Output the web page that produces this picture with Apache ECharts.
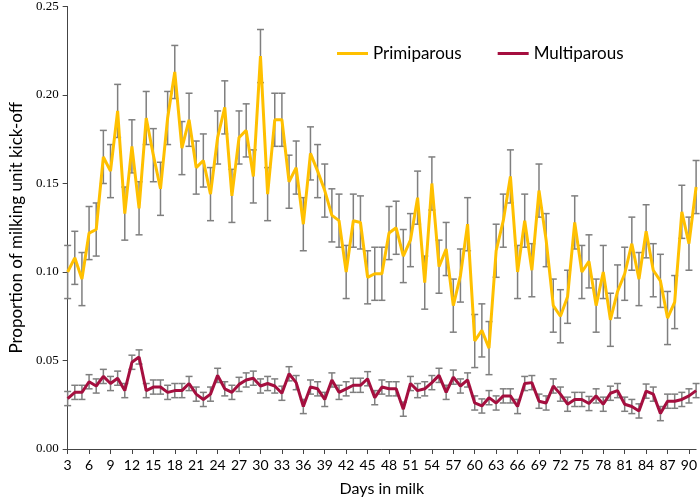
<!DOCTYPE html>
<html>
<head>
<meta charset="utf-8">
<script src="https://cdn.jsdelivr.net/npm/echarts@6/dist/echarts.min.js"></script>
<style>html,body{margin:0;padding:0;background:#fff}#c{width:700px;height:502px}</style>
</head>
<body>
<div id="c"></div>
<script>
var days = [];
for (var d = 3; d <= 91; d++) days.push(String(d));

var primiparous = [0.100,0.108,0.096,0.122,0.124,0.165,0.157,0.191,0.133,0.171,
0.136,0.187,0.166,0.147,0.187,0.213,0.170,0.186,0.159,0.163,
0.144,0.176,0.193,0.143,0.176,0.180,0.154,0.222,0.144,0.186,
0.186,0.151,0.159,0.127,0.167,0.157,0.146,0.132,0.129,0.100,
0.129,0.128,0.097,0.099,0.099,0.122,0.125,0.109,0.118,0.142,
0.094,0.150,0.103,0.113,0.081,0.098,0.127,0.061,0.067,0.057,
0.112,0.129,0.154,0.100,0.129,0.101,0.146,0.118,0.081,0.075,
0.086,0.128,0.100,0.106,0.081,0.100,0.073,0.089,0.099,0.116,
0.096,0.123,0.101,0.095,0.074,0.083,0.134,0.116,0.148];

var primiparousErr = [0.015,0.015,0.015,0.015,0.015,0.015,0.015,0.015,0.015,0.015,
0.015,0.015,0.015,0.015,0.015,0.015,0.015,0.015,0.015,0.015,
0.015,0.015,0.015,0.015,0.015,0.015,0.015,0.015,0.015,0.015,
0.015,0.015,0.015,0.015,0.015,0.015,0.015,0.015,0.015,0.015,
0.015,0.015,0.015,0.015,0.015,0.015,0.015,0.015,0.015,0.015,
0.015,0.015,0.015,0.015,0.015,0.015,0.015,0.015,0.015,0.015,
0.015,0.015,0.015,0.015,0.015,0.015,0.015,0.015,0.015,0.015,
0.015,0.015,0.015,0.015,0.015,0.015,0.015,0.015,0.015,0.015,
0.015,0.015,0.015,0.015,0.015,0.015,0.015,0.015,0.015];

var multiparous = [0.0285,0.032,0.032,0.038,0.0356,0.041,0.037,0.040,0.033,0.049,
0.052,0.033,0.035,0.035,0.032,0.033,0.033,0.037,0.031,0.028,
0.031,0.0416,0.034,0.032,0.0365,0.039,0.040,0.0356,0.037,0.0356,
0.0315,0.0425,0.0375,0.024,0.035,0.034,0.028,0.039,0.032,0.034,
0.036,0.036,0.0397,0.029,0.035,0.034,0.034,0.0225,0.037,0.033,
0.034,0.0375,0.0416,0.032,0.0406,0.0356,0.039,0.026,0.0243,0.029,
0.026,0.030,0.030,0.024,0.037,0.0375,0.027,0.026,0.0356,0.031,
0.0253,0.028,0.028,0.0257,0.030,0.0253,0.0315,0.033,0.0253,0.024,
0.0215,0.0327,0.031,0.020,0.027,0.027,0.028,0.030,0.033];

var multiparousErr = [0.004,0.004,0.004,0.004,0.004,0.004,0.004,0.004,0.004,0.004,
0.004,0.004,0.004,0.004,0.004,0.004,0.004,0.004,0.004,0.004,
0.004,0.004,0.004,0.004,0.004,0.004,0.004,0.004,0.004,0.004,
0.004,0.004,0.004,0.004,0.004,0.004,0.004,0.004,0.004,0.004,
0.004,0.004,0.004,0.004,0.004,0.004,0.004,0.004,0.004,0.004,
0.004,0.004,0.004,0.004,0.004,0.004,0.004,0.004,0.004,0.004,
0.004,0.004,0.004,0.004,0.004,0.004,0.004,0.004,0.004,0.004,
0.004,0.004,0.004,0.004,0.004,0.004,0.004,0.004,0.004,0.004,
0.004,0.004,0.004,0.004,0.004,0.004,0.004,0.004,0.004];

var yTicks = ['0.00','0.05','0.10','0.15','0.20','0.25'];

function errData(vals, errs) {
  return vals.map(function (v, i) { return [i, v - errs[i], v + errs[i]]; });
}

function renderErr(params, api) {
  var lo = api.coord([api.value(0), api.value(1)]);
  var hi = api.coord([api.value(0), api.value(2)]);
  var hw = 3.5;
  var st = { stroke: '#7f7f7f', lineWidth: 1.5 };
  return {
    type: 'group',
    children: [
      { type: 'line', shape: { x1: lo[0], y1: lo[1], x2: hi[0], y2: hi[1] }, style: st },
      { type: 'line', shape: { x1: lo[0] - hw, y1: lo[1], x2: lo[0] + hw, y2: lo[1] }, style: st },
      { type: 'line', shape: { x1: hi[0] - hw, y1: hi[1], x2: hi[0] + hw, y2: hi[1] }, style: st }
    ]
  };
}

var chart = echarts.init(document.getElementById('c'), null, { renderer: 'canvas' });
chart.setOption({
  animation: false,
  backgroundColor: '#fff',
  grid: { left: 60, right: 3, top: 5, bottom: 52, containLabel: false },
  legend: {
    data: ['Primiparous', 'Multiparous'],
    left: 332, top: 40,
    icon: 'rect', itemWidth: 31, itemHeight: 3, itemGap: 36,
    textStyle: { fontFamily: 'Lato', fontSize: 17, color: '#000' }
  },
  xAxis: {
    type: 'category', data: days, boundaryGap: false,
    name: 'Days in milk', nameLocation: 'middle', nameGap: 32,
    nameTextStyle: { fontFamily: 'Lato', fontSize: 16, color: '#000' },
    axisLine: { lineStyle: { color: '#444', width: 1 } },
    axisTick: { interval: 2, length: 5, lineStyle: { color: '#444' } },
    axisLabel: { interval: 2, fontFamily: 'Lato', fontSize: 14, color: '#000', margin: 9 },
    splitLine: { show: false }
  },
  yAxis: {
    type: 'value', min: 0, max: 0.25, interval: 0.05,
    name: 'Proportion of milking unit kick-off', nameLocation: 'middle', nameGap: 40,
    nameTextStyle: { fontFamily: 'Lato', fontSize: 17, color: '#000' },
    axisLine: { show: true, lineStyle: { color: '#444', width: 1 } },
    axisTick: { show: true, length: 5, lineStyle: { color: '#444' } },
    axisLabel: {
      fontFamily: 'Liberation Serif', fontSize: 13, color: '#000', margin: 9,
      formatter: function (v) { return yTicks[Math.round(v / 0.05)]; }
    },
    splitLine: { show: false }
  },
  series: [
    { type: 'custom', name: 'errP', renderItem: renderErr, data: errData(primiparous, primiparousErr), z: 1, silent: true },
    { type: 'custom', name: 'errM', renderItem: renderErr, data: errData(multiparous, multiparousErr), z: 1, silent: true },
    { type: 'line', name: 'Primiparous', data: primiparous, showSymbol: false, symbol: 'none', z: 3,
      lineStyle: { color: '#FFC000', width: 3 }, itemStyle: { color: '#FFC000' } },
    { type: 'line', name: 'Multiparous', data: multiparous, showSymbol: false, symbol: 'none', z: 3,
      lineStyle: { color: '#A50F3F', width: 3 }, itemStyle: { color: '#A50F3F' } }
  ]
});
</script>
</body>
</html>
